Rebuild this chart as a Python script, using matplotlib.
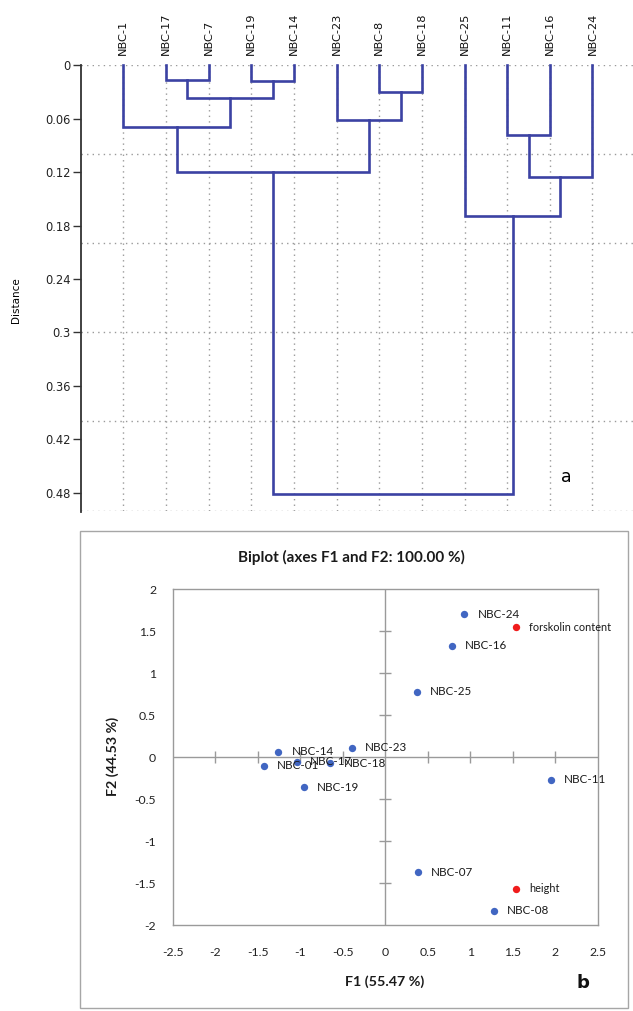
import matplotlib
matplotlib.use('Agg')
import matplotlib.pyplot as plt
from matplotlib.patches import Rectangle

# ---------------- data: dendrogram ----------------
leaves = ['NBC-1', 'NBC-17', 'NBC-7', 'NBC-19', 'NBC-14', 'NBC-23',
          'NBC-8', 'NBC-18', 'NBC-25', 'NBC-11', 'NBC-16', 'NBC-24']
# merges: new cluster ids start at len(leaves)
merge_left = [1, 3, 12, 0, 6, 5, 15, 9, 19, 8, 18]
merge_right = [2, 4, 13, 14, 7, 16, 17, 10, 11, 20, 21]
merge_height = [0.017, 0.018, 0.037, 0.069, 0.030, 0.061, 0.120, 0.078, 0.126, 0.169, 0.482]
distance_ticks = [0, 0.06, 0.12, 0.18, 0.24, 0.30, 0.36, 0.42, 0.48]
distance_tick_labels = ['0', '0.06', '0.12', '0.18', '0.24', '0.3', '0.36', '0.42', '0.48']
distance_grid = [0.0, 0.1, 0.2, 0.3, 0.4, 0.5]

# ---------------- data: biplot ----------------
obs_names = ['NBC-24', 'NBC-16', 'NBC-25', 'NBC-23', 'NBC-14', 'NBC-01',
             'NBC-17', 'NBC-18', 'NBC-19', 'NBC-11', 'NBC-07', 'NBC-08']
obs_f1 = [0.93, 0.78, 0.37, -0.39, -1.26, -1.43, -1.04, -0.645, -0.96, 1.945, 0.385, 1.28]
obs_f2 = [1.70, 1.33, 0.78, 0.11, 0.063, -0.10, -0.056, -0.075, -0.36, -0.27, -1.37, -1.83]
var_names = ['forskolin content', 'height']
var_f1 = [1.54, 1.54]
var_f2 = [1.55, -1.57]
f1_ticks = [-2.5, -2, -1.5, -1, -0.5, 0, 0.5, 1, 1.5, 2, 2.5]
f1_tick_labels = ['-2.5', '-2', '-1.5', '-1', '-0.5', '0', '0.5', '1', '1.5', '2', '2.5']
f2_ticks = [-2, -1.5, -1, -0.5, 0, 0.5, 1, 1.5, 2]
f2_tick_labels = ['-2', '-1.5', '-1', '-0.5', '0', '0.5', '1', '1.5', '2']

W, H = 633, 1011
fig = plt.figure(figsize=(W / 100, H / 100), dpi=100)

# ================= dendrogram =================
dfont = 'DejaVu Sans'
ax = fig.add_axes([80.7 / W, 1 - 510.5 / H, 1 - 80.7 / W, (510.5 - 65.3) / H])
ax.set_xlim(-1, 11.95)
ax.set_ylim(0.5, 0)

grid_kw = dict(color='#9a9a9a', lw=1.0, ls=(0, (1, 3)), zorder=1)
for g in distance_grid:
    ax.axhline(g, **grid_kw)
for i in range(len(leaves)):
    ax.axvline(i, **grid_kw)

xpos = {i: float(i) for i in range(len(leaves))}
hpos = {i: 0.0 for i in range(len(leaves))}
line_col = '#3b42a3'
for k, (a, b, h) in enumerate(zip(merge_left, merge_right, merge_height)):
    nid = len(leaves) + k
    xa, xb = xpos[a], xpos[b]
    ax.plot([xa, xa, xb, xb], [hpos[a], h, h, hpos[b]], color=line_col,
            lw=1.9, solid_joinstyle='miter', zorder=3, clip_on=False)
    xpos[nid] = (xa + xb) / 2
    hpos[nid] = h

ax.set_xticks(range(len(leaves)))
ax.set_xticklabels(leaves, rotation=90, fontsize=8.2, family=dfont, color='#111111')
ax.xaxis.tick_top()
ax.tick_params(axis='x', length=0, pad=7.5)
ax.set_yticks(distance_ticks)
ax.set_yticklabels(distance_tick_labels, fontsize=8.3, family=dfont, color='#222222')
ax.tick_params(axis='y', length=5.5, width=1.0, color='#333333', pad=1.8)
for s in ['top', 'right', 'bottom']:
    ax.spines[s].set_visible(False)
ax.spines['left'].set_color('#333333')
ax.spines['left'].set_linewidth(1.3)
ax.spines['left'].set_bounds(0, 0.502)
fig.text(16 / W, 1 - 300 / H, 'Distance', rotation=90, ha='center', va='center',
         fontsize=7.5, family=dfont)
fig.text(566.7 / W, 1 - 477 / H, 'a', ha='center', va='center', fontsize=12.5, family=dfont)

# ================= biplot =================
bfont = 'Lato'
fig.patches.append(Rectangle((80 / W, 1 - 1008 / H), 548 / W, 477 / H,
                             transform=fig.transFigure, fill=False,
                             edgecolor='#a6a6a6', lw=1.0))
bx = fig.add_axes([172.8 / W, 1 - 925 / H, 425 / W, 335.7 / H])
bx.set_xlim(-2.5, 2.5)
bx.set_ylim(-2, 2)
axis_col = '#9a9a9a'
for s in bx.spines.values():
    s.set_color(axis_col)
    s.set_linewidth(1.0)
bx.axhline(0, color=axis_col, lw=1.0, zorder=1)
bx.axvline(0, color=axis_col, lw=1.0, zorder=1)
# cross ticks on the zero lines
inner_x = [t for t in f1_ticks if t not in (-2.5, 0, 2.5)]
inner_y = [t for t in f2_ticks if t not in (-2, 0, 2)]
bx.plot(inner_x, [0] * len(inner_x), ls='none', marker='|', ms=8, mew=1.0,
        color=axis_col, zorder=1)
bx.plot([0] * len(inner_y), inner_y, ls='none', marker='_', ms=8, mew=1.0,
        color=axis_col, zorder=1)

bx.scatter(obs_f1, obs_f2, s=28, color='#4166c2', zorder=3, linewidths=0)
bx.scatter(var_f1, var_f2, s=28, color='#f01c1c', zorder=3, linewidths=0)
for n, x, y in zip(obs_names, obs_f1, obs_f2):
    bx.annotate(n, (x, y), xytext=(9.5, 0), textcoords='offset points',
                ha='left', va='center', fontsize=8.4, family=bfont, color='#1a1a1a',
                zorder=4)
for n, x, y in zip(var_names, var_f1, var_f2):
    bx.annotate(n, (x, y), xytext=(9.5, 0), textcoords='offset points',
                ha='left', va='center', fontsize=7.8, family=bfont, color='#1a1a1a',
                zorder=4)

bx.set_xticks(f1_ticks)
bx.set_xticklabels(f1_tick_labels, fontsize=8.8, family=bfont, color='#222222')
bx.set_yticks(f2_ticks)
bx.set_yticklabels(f2_tick_labels, fontsize=8.8, family=bfont, color='#222222')
bx.tick_params(axis='x', length=0, pad=15.5)
bx.tick_params(axis='y', length=0, pad=12)

fig.text(351 / W, 1 - 557 / H, 'Biplot (axes F1 and F2: 100.00 %)', ha='center',
         va='center', fontsize=11, fontweight='bold', family=bfont, color='#1a1a1a')
fig.text(385 / W, 1 - 981.7 / H, 'F1 (55.47 %)', ha='center', va='center',
         fontsize=10.3, fontweight='bold', family=bfont, color='#1a1a1a')
fig.text(113 / W, 1 - 756.7 / H, 'F2 (44.53 %)', ha='center', va='center',
         rotation=90, fontsize=10.3, fontweight='bold', family=bfont, color='#1a1a1a')
fig.text(583 / W, 1 - 983 / H, 'b', ha='center', va='center', fontsize=13,
         fontweight='bold', family=dfont, color='#111111')

fig.savefig('out.png', dpi=100)
